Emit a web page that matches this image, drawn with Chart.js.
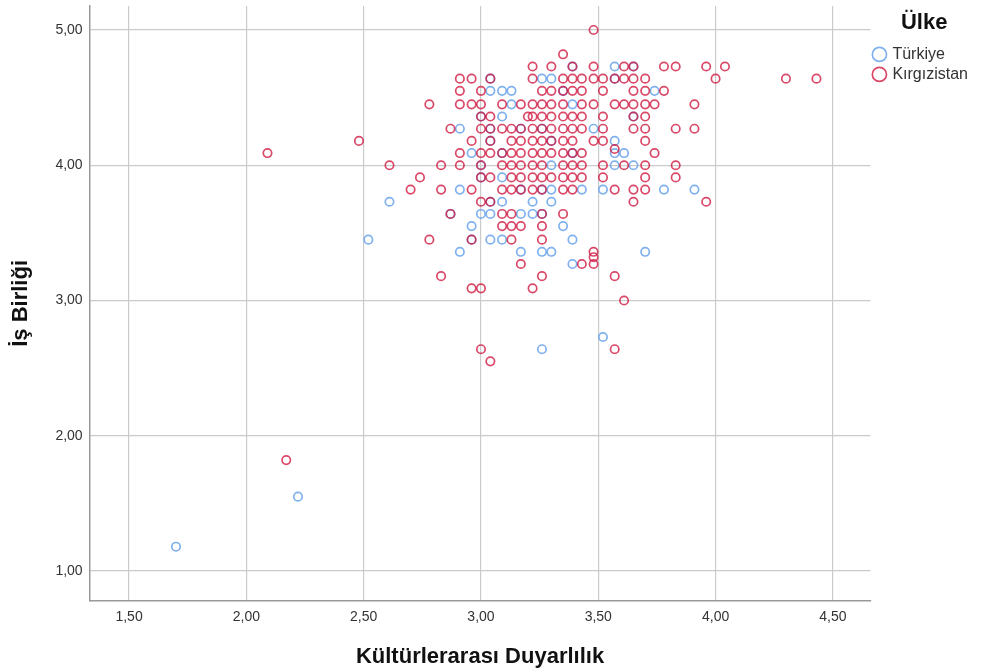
<!DOCTYPE html>
<html lang="tr">
<head>
<meta charset="utf-8">
<title>İş Birliği / Kültürlerarası Duyarlılık</title>
<script src="https://cdn.jsdelivr.net/npm/chart.js@4.4.1/dist/chart.umd.min.js"></script>
<style>
  html, body { margin: 0; padding: 0; background: #fff; }
</style>
</head>
<body>
<canvas id="scatterChart" width="983" height="671"></canvas>
<script>
// axis ranges and tick labels
const xMin = 1.332, xMax = 4.66;
const yMin = 0.78, yMax = 5.177;
const xTickValues = [1.5, 2.0, 2.5, 3.0, 3.5, 4.0, 4.5];
const yTickValues = [1, 2, 3, 4, 5];

// Türkiye: İş Birliği levels and the Kültürlerarası Duyarlılık scores on each level
const turkiyeLevels = [4.73, 4.64, 4.55, 4.45, 4.36, 4.27, 4.18, 4.09, 4.00, 3.91, 3.82, 3.73, 3.64, 3.55, 3.45, 3.36, 3.27, 2.73, 2.64, 1.55, 1.18];
const turkiyeRows = [
  [3.39, 3.57, 3.65],
  [3.04, 3.26, 3.30, 3.57],
  [3.04, 3.09, 3.13, 3.35, 3.74],
  [3.13, 3.39],
  [3.00, 3.09, 3.65],
  [2.91, 3.04, 3.17, 3.26, 3.48],
  [3.04, 3.30, 3.57],
  [2.96, 3.09, 3.39, 3.57, 3.61],
  [3.00, 3.30, 3.57, 3.65],
  [3.00, 3.09],
  [2.91, 3.17, 3.26, 3.30, 3.43, 3.52, 3.78, 3.91],
  [2.61, 3.04, 3.09, 3.22, 3.30],
  [2.87, 3.00, 3.04, 3.17, 3.22, 3.26],
  [2.96, 3.35],
  [2.52, 2.96, 3.04, 3.09, 3.39],
  [2.91, 3.17, 3.26, 3.30, 3.70],
  [3.39],
  [3.52],
  [3.26],
  [2.22],
  [1.70]
];

// Kırgızistan
const kirgizistanLevels = [5.00, 4.82, 4.73, 4.64, 4.55, 4.45, 4.36, 4.27, 4.18, 4.12, 4.09, 4.00, 3.91, 3.82, 3.73, 3.64, 3.55, 3.45, 3.36, 3.32, 3.27, 3.18, 3.09, 3.00, 2.64, 2.55, 1.82];
const kirgizistanRows = [
  [3.48],
  [3.35],
  [3.22, 3.30, 3.39, 3.48, 3.61, 3.65, 3.78, 3.83, 3.96, 4.04],
  [2.91, 2.96, 3.04, 3.22, 3.35, 3.39, 3.43, 3.48, 3.52, 3.57, 3.61, 3.65, 3.70, 4.00, 4.30, 4.43],
  [2.91, 3.00, 3.26, 3.30, 3.35, 3.39, 3.43, 3.52, 3.65, 3.70, 3.78],
  [2.78, 2.91, 2.96, 3.00, 3.09, 3.17, 3.22, 3.26, 3.30, 3.35, 3.43, 3.48, 3.57, 3.61, 3.65, 3.70, 3.74, 3.91],
  [3.00, 3.04, 3.20, 3.22, 3.26, 3.30, 3.35, 3.39, 3.43, 3.52, 3.65, 3.70],
  [2.87, 3.00, 3.04, 3.09, 3.13, 3.17, 3.22, 3.26, 3.30, 3.35, 3.39, 3.43, 3.52, 3.65, 3.70, 3.83, 3.91],
  [2.48, 2.96, 3.04, 3.13, 3.17, 3.22, 3.26, 3.30, 3.35, 3.39, 3.48, 3.52, 3.70],
  [3.57],
  [2.09, 2.91, 3.00, 3.04, 3.09, 3.13, 3.17, 3.22, 3.26, 3.30, 3.35, 3.39, 3.43, 3.74],
  [2.61, 2.83, 2.91, 3.00, 3.09, 3.13, 3.17, 3.22, 3.26, 3.35, 3.39, 3.43, 3.52, 3.61, 3.70, 3.83],
  [2.74, 3.00, 3.04, 3.13, 3.17, 3.22, 3.26, 3.30, 3.35, 3.39, 3.43, 3.52, 3.70, 3.83],
  [2.70, 2.83, 2.96, 3.09, 3.13, 3.17, 3.22, 3.26, 3.35, 3.39, 3.57, 3.65, 3.70],
  [3.00, 3.04, 3.65, 3.96],
  [2.87, 3.09, 3.13, 3.26, 3.35],
  [3.09, 3.13, 3.17, 3.26],
  [2.78, 2.96, 3.13, 3.26],
  [3.48],
  [3.48],
  [3.17, 3.43, 3.48],
  [2.83, 3.26, 3.57],
  [2.96, 3.00, 3.22],
  [3.61],
  [3.00, 3.57],
  [3.04],
  [2.17]
];

const FONT = "'Liberation Sans', Arial, sans-serif";
const BLUE = "rgba(105, 163, 236, 0.85)";
const RED = "rgba(208, 20, 62, 0.78)";

function toPoints(levels, rows) {
  const points = [];
  levels.forEach((y, i) => {
    rows[i].forEach(x => points.push({ x, y }));
  });
  return points;
}

function commaLabel(value) {
  return Number(value).toFixed(2).replace(".", ",");
}

function scatterDataset(label, data, color, order) {
  return {
    label,
    data,
    order,
    pointStyle: "circle",
    pointRadius: 4.2,
    pointHoverRadius: 4.2,
    pointBorderWidth: 1.7,
    pointBorderColor: color,
    pointBackgroundColor: "rgba(0,0,0,0)",
    borderColor: color,
    backgroundColor: "rgba(0,0,0,0)"
  };
}

const ctx = document.getElementById("scatterChart");
new Chart(ctx, {
  type: "scatter",
  data: {
    datasets: [
      scatterDataset("Türkiye", toPoints(turkiyeLevels, turkiyeRows), BLUE, 1),
      scatterDataset("Kırgızistan", toPoints(kirgizistanLevels, kirgizistanRows), RED, 0)
    ]
  },
  options: {
    responsive: false,
    animation: false,
    layout: { padding: { left: 5, top: 6, right: 5, bottom: 1 } },
    plugins: {
      tooltip: { enabled: false },
      legend: {
        position: "right",
        align: "start",
        title: {
          display: true,
          text: "Ülke",
          color: "#111",
          font: { family: FONT, size: 22, weight: "bold" },
          padding: { top: 6, bottom: 4 }
        },
        labels: {
          usePointStyle: true,
          boxWidth: 10,
          boxHeight: 10,
          color: "#333",
          font: { family: FONT, size: 16 },
          padding: 4,
          sort: (a, b) => a.datasetIndex - b.datasetIndex
        }
      }
    },
    scales: {
      x: {
        type: "linear",
        min: xMin,
        max: xMax,
        afterBuildTicks: axis => { axis.ticks = xTickValues.map(value => ({ value })); },
        ticks: {
          callback: commaLabel,
          color: "#333",
          font: { family: FONT, size: 14 },
          padding: 8,
          maxRotation: 0,
          autoSkip: false
        },
        grid: { color: "#cacaca", lineWidth: 1.2, drawTicks: false },
        border: { color: "#999", width: 1.5 },
        title: {
          display: true,
          text: "Kültürlerarası Duyarlılık",
          color: "#111",
          font: { family: FONT, size: 22, weight: "bold" },
          padding: { top: 10, bottom: 0 }
        }
      },
      y: {
        type: "linear",
        min: yMin,
        max: yMax,
        afterBuildTicks: axis => { axis.ticks = yTickValues.map(value => ({ value })); },
        ticks: {
          callback: commaLabel,
          color: "#333",
          font: { family: FONT, size: 14, lineHeight: 0.86 },
          padding: 0
        },
        grid: { color: "#cacaca", lineWidth: 1.2, drawTicks: true, tickLength: 7, tickColor: "rgba(0,0,0,0)" },
        border: { color: "#999", width: 1.5 },
        title: {
          display: true,
          text: "İş Birliği",
          color: "#111",
          font: { family: FONT, size: 22, weight: "bold" },
          padding: { top: 3, bottom: 21 }
        }
      }
    }
  }
});
</script>
</body>
</html>
